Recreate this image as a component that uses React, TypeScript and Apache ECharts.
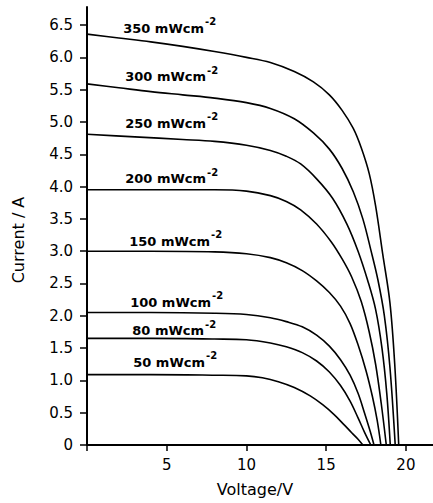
import React, { useEffect, useRef } from 'react';
import * as echarts from 'echarts';

// Irradiance levels (labels) and I–V curves [Voltage (V), Current (A)]
const levels = ['350', '300', '250', '200', '150', '100', '80', '50'];

const c350 = [[0,6.36],[2,6.30],[4,6.24],[6,6.17],[8,6.09],[10,6.00],[11.5,5.92],[13,5.78],[14.2,5.62],[15.2,5.42],[16.0,5.18],[16.7,4.90],[17.2,4.60],[17.7,4.20],[18.1,3.70],[18.55,2.95],[19.0,2.20],[19.3,1.25],[19.55,0]];
const c300 = [[0,5.59],[2,5.53],[4,5.47],[6,5.42],[8,5.37],[10,5.30],[11.5,5.21],[13,5.05],[14.2,4.83],[15.2,4.58],[16.0,4.28],[16.7,3.92],[17.3,3.50],[17.8,3.02],[18.25,2.55],[18.65,2.0],[19.0,1.2],[19.33,0]];
const c250 = [[0,4.81],[3,4.77],[6,4.73],[8,4.70],[10,4.64],[11.5,4.56],[12.5,4.47],[13.4,4.35],[14.4,4.12],[15.4,3.82],[16.3,3.42],[17.0,3.0],[17.6,2.55],[18.1,2.1],[18.5,1.5],[18.8,0.8],[19.02,0]];
const c200 = [[0,3.95],[4,3.95],[8,3.95],[10,3.93],[11.5,3.86],[12.5,3.77],[13.4,3.64],[14.4,3.42],[15.3,3.15],[16.0,2.88],[16.6,2.6],[17.2,2.22],[17.7,1.75],[18.1,1.25],[18.45,0.65],[18.77,0]];
const c150 = [[0,3.0],[4,3.0],[8,2.99],[10,2.96],[11.5,2.9],[12.5,2.82],[13.5,2.70],[14.4,2.54],[15.2,2.36],[15.9,2.15],[16.5,1.88],[17.0,1.55],[17.5,1.15],[17.9,0.75],[18.2,0.38],[18.43,0]];
const c100 = [[0,2.05],[4,2.05],[8,2.04],[10,2.02],[11.5,1.97],[12.5,1.91],[13.5,1.83],[14.4,1.70],[15.2,1.53],[15.9,1.32],[16.5,1.08],[17.0,0.80],[17.4,0.50],[17.75,0.22],[18.0,0]];
const c80 = [[0,1.65],[4,1.65],[8,1.64],[10,1.63],[11.5,1.58],[12.5,1.52],[13.5,1.43],[14.4,1.30],[15.2,1.13],[15.9,0.92],[16.5,0.68],[17.0,0.42],[17.4,0.20],[17.8,0]];
const c50 = [[0,1.09],[4,1.09],[8,1.08],[10,1.07],[11,1.04],[12,0.98],[13,0.89],[14,0.76],[14.8,0.62],[15.5,0.47],[16.1,0.32],[16.6,0.19],[17.0,0.09],[17.3,0]];

const curves = [c350, c300, c250, c200, c150, c100, c80, c50];

// label anchors (left edge, text bottom) in data units
const labelAnchors = [[2.27,6.35],[2.4,5.6],[2.4,4.88],[2.4,4.02],[2.65,3.05],[2.71,2.11],[2.84,1.67],[2.9,1.18]];

const yTicks = [0,0.5,1,1.5,2,2.5,3,3.5,4,4.5,5,5.5,6,6.5];
const xTicks = [0,5,10,15,20];
const xLabels = [5,10,15,20];

const FONT = '"DejaVu Sans", sans-serif';

export default function App() {
  const ref = useRef<HTMLDivElement>(null);
  useEffect(() => {
    if (!ref.current) return;
    const chart = echarts.init(ref.current, undefined, { renderer: 'svg' });
    const series = curves.map((data, i) => ({
      type: 'line',
      data,
      smooth: 0.35,
      showSymbol: false,
      symbol: 'none',
      lineStyle: { color: '#000', width: 1.6 },
      markPoint: {
        symbol: 'circle',
        symbolSize: 0,
        data: [{ coord: labelAnchors[i], value: levels[i] }],
        label: {
          show: true,
          position: [0, 0],
          align: 'left',
          verticalAlign: 'bottom',
          formatter: '{a|' + levels[i] + ' mWcm}{s|-2}',
          rich: {
            a: { fontFamily: FONT, fontSize: 13, fontWeight: 'bold', color: '#000', lineHeight: 18, verticalAlign: 'bottom' },
            s: { fontFamily: FONT, fontSize: 10, fontWeight: 'bold', color: '#000', lineHeight: 10, verticalAlign: 'top', padding: [0, 0, 0, 1] },
          },
        },
      },
    }));
    chart.setOption({
      animation: false,
      grid: { left: 87, top: 7, right: 0, bottom: 58, containLabel: false, outerBoundsMode: 'none' },
      xAxis: {
        type: 'value',
        min: 0,
        max: 21.7,
        interval: 5,
        axisLine: { show: true, lineStyle: { color: '#000', width: 2 } },
        axisTick: { show: true, length: 6, lineStyle: { color: '#000', width: 1.5 }, customValues: xTicks },
        axisLabel: { customValues: xLabels, margin: 12, color: '#000', fontFamily: FONT, fontSize: 15 },
        splitLine: { show: false },
      },
      yAxis: {
        type: 'value',
        min: 0,
        max: 6.78,
        interval: 0.5,
        axisLine: { show: true, lineStyle: { color: '#000', width: 2 } },
        axisTick: { show: true, length: 7, lineStyle: { color: '#000', width: 1.5 }, customValues: yTicks },
        axisLabel: {
          customValues: yTicks,
          margin: 14,
          color: '#000',
          fontFamily: FONT,
          fontSize: 15,
          formatter: (v: number) => (v === 0 ? '0' : v.toFixed(1)),
        },
        splitLine: { show: false },
      },
      graphic: [
        {
          type: 'text',
          x: 18,
          y: 240,
          rotation: Math.PI / 2,
          style: { text: 'Current / A', fontFamily: FONT, fontSize: 16, fill: '#000', align: 'center', verticalAlign: 'middle' },
        },
        {
          type: 'text',
          x: 255,
          y: 489,
          style: { text: 'Voltage/V', fontFamily: FONT, fontSize: 16, fill: '#000', align: 'center', verticalAlign: 'middle' },
        },
      ],
      series,
    });
    return () => chart.dispose();
  }, []);
  return <div ref={ref} style={{ position: 'absolute', left: 0, top: 0, width: 433, height: 503 }} />;
}
